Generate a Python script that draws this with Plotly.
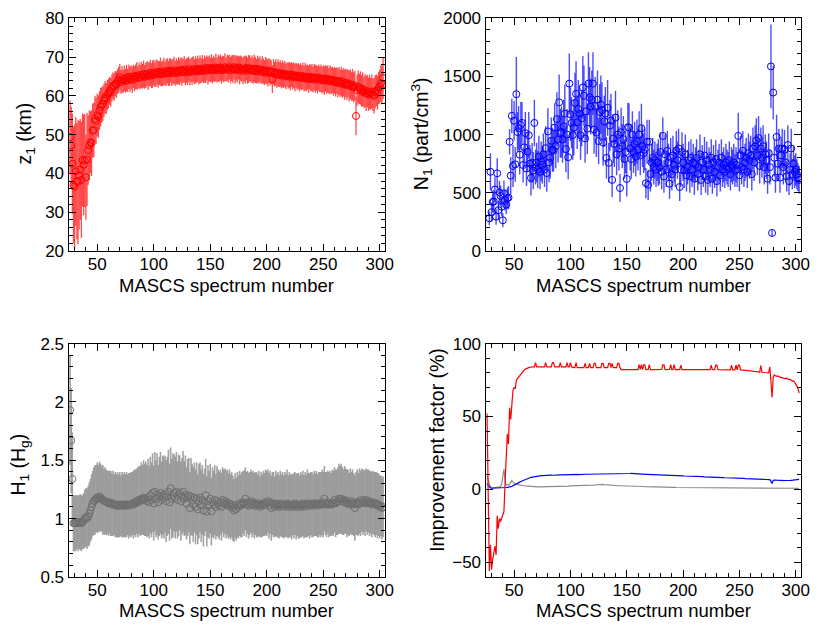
import plotly.graph_objects as go

spectrum = list(range(26, 304))

z1 = [49.3, 47.2, 42.5, 37.0,
      36.6, 40.5, 38.0, 37.8, 39.5, 41.0, 38.3, 43.4, 42.2, 43.3,
      39.0, 43.6, 46.0, 47.2, 48.0, 47.8, 51.0, 51.2, 54.0, 53.5,
      55.0, 54.6, 56.2, 57.1, 57.6, 58.0, 58.8, 59.6, 59.3, 60.2,
      60.6, 61.3, 60.9, 62.0, 62.6, 62.3, 63.1, 62.9, 63.7, 64.1,
      64.8, 63.6, 64.2, 63.8, 64.5, 63.9, 64.6, 64.0, 64.9, 64.3,
      64.7, 64.1, 65.0, 64.4, 64.9, 65.2, 64.6, 65.3, 64.8, 65.4,
      65.0, 65.6, 64.9, 65.3, 65.7, 65.1, 65.5, 65.9, 65.2, 65.6,
      66.0, 65.4, 65.8, 66.1, 65.5, 65.9, 66.2, 65.6, 65.8, 66.3,
      65.7, 66.0, 66.4, 65.8, 66.1, 66.5, 65.9, 66.2, 66.6, 65.8,
      66.3, 66.0, 66.5, 66.1, 66.7, 66.2, 66.4, 66.8, 66.0, 66.5,
      66.3, 66.9, 66.1, 66.6, 66.4, 66.9, 66.2, 66.7, 66.5, 67.0,
      66.3, 66.8, 66.5, 67.1, 66.4, 66.9, 66.6, 67.2, 66.5, 67.0,
      66.7, 67.2, 66.5, 67.0, 66.8, 67.3, 66.6, 67.1, 66.9, 67.3,
      66.6, 67.1, 66.8, 67.4, 66.7, 67.2, 66.9, 67.4, 66.6, 67.1,
      66.9, 67.4, 66.7, 67.2, 66.8, 67.3, 66.6, 67.1, 66.9, 66.4,
      67.0, 66.7, 67.2, 66.5, 66.9, 67.1, 66.6, 66.9, 66.4, 67.0,
      66.7, 66.3, 66.9, 66.5, 66.8, 66.2, 66.7, 66.4, 66.0, 66.6,
      66.3, 65.9, 66.5, 66.0, 66.1, 64.3, 66.2, 65.6, 66.0, 65.4,
      65.9, 65.5, 65.8, 65.2, 65.7, 65.3, 65.6, 65.0, 65.5, 65.2,
      65.4, 64.9, 65.5, 65.0, 65.3, 64.7, 65.2, 64.9, 65.1, 64.6,
      65.0, 64.7, 65.1, 64.5, 64.9, 64.6, 64.8, 64.3, 64.9, 64.5,
      64.7, 64.2, 64.8, 64.4, 64.6, 64.1, 64.7, 64.3, 64.5, 64.0,
      64.4, 63.9, 64.5, 64.1, 64.3, 63.8, 64.2, 63.9, 64.1, 63.6,
      64.0, 63.5, 63.9, 63.4, 63.8, 63.2, 63.7, 63.1, 63.5, 62.9,
      63.3, 62.8, 63.2, 62.6, 63.0, 62.4, 62.8, 62.2, 62.6, 54.8,
      61.5, 62.3, 61.8, 62.0, 61.2, 61.7, 60.9, 61.3, 60.6, 61.2,
      60.4, 61.0, 60.5, 61.1, 60.3, 60.0, 61.0, 61.4, 60.8, 62.0,
      62.4, 63.2, 62.8, 64.6]

z1_err = [9.5, 10, 13, 15,
          16, 14, 15, 16, 14, 13, 15, 12, 13, 12,
          11, 12, 9, 9, 8, 8.5, 7, 7, 6, 6,
          5.5, 5.5, 5, 5, 4.6, 4.5, 4.3, 4.2, 4.0, 3.9,
          3.8, 3.6, 3.7, 3.5, 3.4, 3.6, 3.3, 3.4, 3.2, 3.3,
          3.4, 3.1, 3.5, 3.0, 3.3, 3.1, 3.4, 3.0, 3.2, 3.3,
          3.1, 3.4, 3.0, 3.3, 3.2, 3.5, 3.0, 3.3, 3.1, 3.4,
          3.2, 3.5, 3.1, 3.3, 3.2, 3.6, 3.1, 3.4, 3.2, 3.5,
          3.3, 3.1, 3.5, 3.2, 3.4, 3.1, 3.6, 3.2, 3.3, 3.5,
          3.1, 3.4, 3.3, 3.2, 3.6, 3.1, 3.4, 3.3, 3.5, 3.2,
          3.4, 3.1, 3.5, 3.3, 3.2, 3.6, 3.1, 3.4, 3.3, 3.2,
          3.5, 3.2, 3.4, 3.1, 3.6, 3.3, 3.2, 3.5, 3.1, 3.4,
          3.3, 3.6, 3.2, 3.4, 3.1, 3.5, 3.3, 3.2, 3.6, 3.4,
          3.2, 3.5, 3.3, 3.4, 3.1, 3.6, 3.2, 3.5, 3.3, 3.4,
          3.5, 3.2, 3.4, 3.6, 3.1, 3.3, 3.5, 3.2, 3.4, 3.3,
          3.6, 3.2, 3.5, 3.3, 3.4, 3.1, 3.6, 3.3, 3.2, 3.4,
          3.3, 3.5, 3.2, 3.4, 3.6, 3.3, 3.2, 3.5, 3.3, 3.6,
          3.4, 3.2, 3.5, 3.3, 3.4, 3.1, 3.5, 3.3, 3.2, 3.4,
          3.3, 3.5, 3.2, 3.4, 3.1, 3.6, 3.3, 3.2, 3.4, 3.3,
          3.5, 3.2, 3.4, 3.3, 3.5, 3.2, 3.4, 3.3, 3.1, 3.4,
          3.3, 3.5, 3.2, 3.4, 3.3, 3.6, 3.2, 3.4, 3.3, 3.5,
          3.4, 3.2, 3.5, 3.3, 3.6, 3.4, 3.2, 3.5, 3.3, 3.4,
          3.5, 3.3, 3.4, 3.6, 3.3, 3.5, 3.4, 3.3, 3.6, 3.4,
          3.5, 3.7, 3.4, 3.6, 3.5, 3.3, 3.7, 3.5, 3.4, 3.6,
          3.5, 3.7, 3.4, 3.8, 3.6, 3.5, 3.8, 3.6, 3.7, 3.9,
          3.7, 3.9, 3.6, 4.0, 3.8, 3.7, 4.1, 3.9, 3.8, 5.0,
          4.0, 4.2, 3.9, 4.3, 4.1, 4.4, 4.0, 4.3, 4.5, 4.2,
          4.3, 4.5, 4.1, 4.4, 4.2, 4.6, 4.3, 4.1, 4.4, 4.2,
          4.4, 4.8, 5.0, 5.4]

n1 = [None, None, 280, 680,
      333, 420, 425, 527, 294, 667, 350, 502, 472, 380,
      263, 494, 438, 397, 452, 458, 938, 647, 1161, 730,
      1119, 744, 1347, 1022, 1055, 827, 1083, 1100, 738, 890,
      1013, 708, 852, 994, 750, 627, 758, 690, 1100, 720,
      760, 700, 810, 680, 770, 740, 830, 700, 883, 669,
      1027, 760, 800, 947, 870, 863, 1060, 900, 1133, 960,
      1277, 1010, 1022, 958, 1070, 1180, 875, 1000, 805, 1438,
      1175, 1100, 994, 1060, 1272, 1350, 1105, 1220, 1180, 994,
      1140, 1405, 1333, 967, 1200, 1050, 1438, 1320, 1240, 1300,
      1438, 1044, 1244, 1016, 1300, 944, 1194, 1258, 1210, 932,
      1113, 1180, 799, 1230, 757, 1077, 1120, 610, 966, 920,
      1146, 830, 1000, 880, 540, 1020, 900, 960, 790, 850,
      618, 1063, 1060, 880, 790, 1000, 850, 920, 810, 940,
      870, 1000, 820, 1055, 900, 840, 870, 582, 938, 568,
      938, 660, 760, 800, 720, 780, 700, 760, 760, 720,
      850, 680, 988, 640, 830, 700, 860, 760, 577, 800,
      660, 820, 740, 700, 860, 780, 880, 549, 700, 850,
      760, 690, 830, 650, 720, 780, 640, 800, 700, 760,
      620, 740, 800, 660, 720, 830, 610, 760, 700, 820,
      640, 780, 610, 740, 700, 800, 620, 760, 680, 790,
      600, 720, 760, 650, 800, 700, 740, 680, 760, 720,
      700, 780, 660, 740, 720, 760, 690, 740, 700, 988,
      650, 820, 720, 860, 700, 760, 800, 680, 840, 780,
      820, 660, 880, 760, 900, 950, 820, 970, 730, 880,
      800, 900, 720, 830, 780, 620, 840, 720, 1586, 154,
      1361, 800, 630, 980, 750, 880, 630, 820, 880, 720,
      870, 760, 640, 910, 600, 700, 880, 660, 750, 680,
      700, 660, 632, 610]

n1_err = [0, 0, 60, 160,
          80, 90, 100, 110, 70, 130, 80, 100, 90, 80,
          60, 110, 90, 80, 90, 100, 110, 160, 150, 180,
          170, 150, 320, 170, 190, 170, 200, 180, 150, 170,
          180, 150, 170, 200, 160, 150, 170, 160, 200, 150,
          170, 160, 180, 150, 170, 160, 180, 150, 190, 160,
          200, 170, 180, 200, 190, 180, 210, 190, 230, 200,
          240, 210, 220, 200, 230, 250, 200, 220, 190, 260,
          230, 220, 210, 240, 260, 280, 230, 250, 240, 210,
          240, 270, 260, 210, 250, 220, 270, 260, 240, 250,
          270, 210, 250, 210, 250, 200, 240, 250, 240, 200,
          220, 230, 180, 240, 170, 220, 230, 150, 210, 200,
          230, 180, 210, 190, 120, 210, 190, 200, 170, 180,
          150, 210, 210, 190, 170, 200, 180, 190, 170, 190,
          180, 200, 170, 210, 180, 170, 180, 130, 190, 130,
          190, 150, 160, 170, 150, 160, 150, 160, 200, 150,
          170, 150, 160, 140, 170, 150, 170, 160, 130, 170,
          140, 170, 150, 150, 170, 160, 170, 120, 150, 170,
          160, 150, 170, 140, 150, 160, 140, 160, 150, 160,
          140, 150, 160, 140, 150, 170, 130, 150, 150, 160,
          140, 160, 130, 150, 150, 160, 130, 150, 140, 160,
          130, 150, 160, 140, 160, 150, 150, 140, 160, 150,
          150, 160, 140, 150, 150, 160, 140, 150, 150, 200,
          140, 170, 150, 170, 150, 160, 170, 140, 170, 160,
          170, 140, 180, 160, 180, 190, 170, 190, 150, 180,
          170, 180, 150, 170, 160, 130, 170, 150, 360, 30,
          230, 160, 130, 190, 150, 170, 130, 160, 170, 150,
          170, 150, 130, 170, 120, 140, 170, 130, 150, 140,
          140, 130, 120, 120]

h1 = [1.93, 1.67, 1.34, 0.96,
      0.96, 0.96, 0.97, 0.96, 0.97, 0.97, 0.96, 0.97, 0.98, 1.00,
      1.01, 1.00, 1.02, 1.04, 1.07, 1.10, 1.13, 1.15, 1.16, 1.17,
      1.18, 1.17, 1.19, 1.18, 1.17, 1.16, 1.15, 1.15, 1.14, 1.14,
      1.13, 1.14, 1.13, 1.12, 1.13, 1.12, 1.12, 1.11, 1.12, 1.11,
      1.12, 1.11, 1.12, 1.11, 1.12, 1.11, 1.12, 1.12, 1.11, 1.12,
      1.12, 1.13, 1.12, 1.14, 1.13, 1.15, 1.14, 1.16, 1.15, 1.17,
      1.16, 1.18, 1.16, 1.17, 1.15, 1.18, 1.14, 1.20, 1.16, 1.22,
      1.13, 1.23, 1.17, 1.21, 1.14, 1.19, 1.22, 1.16, 1.20, 1.18,
      1.21, 1.15, 1.19, 1.23, 1.14, 1.26, 1.17, 1.20, 1.22, 1.18,
      1.23, 1.16, 1.20, 1.22, 1.15, 1.19, 1.23, 1.17, 1.20, 1.13,
      1.18, 1.20, 1.09, 1.19, 1.16, 1.12, 1.18, 1.10, 1.17, 1.08,
      1.15, 1.18, 1.11, 1.16, 1.07, 1.14, 1.20, 1.06, 1.15, 1.12,
      1.17, 1.06, 1.14, 1.12, 1.16, 1.10, 1.15, 1.13, 1.11, 1.14,
      1.10, 1.16, 1.13, 1.15, 1.12, 1.14, 1.11, 1.13, 1.10, 1.12,
      1.09, 1.07, 1.11, 1.08, 1.12, 1.10, 1.13, 1.11, 1.12, 1.14,
      1.13, 1.17, 1.12, 1.14, 1.11, 1.13, 1.15, 1.12, 1.14, 1.11,
      1.13, 1.12, 1.11, 1.13, 1.10, 1.12, 1.11, 1.13, 1.12, 1.14,
      1.13, 1.15, 1.11, 1.14, 1.09, 1.13, 1.12, 1.10, 1.13, 1.11,
      1.12, 1.10, 1.13, 1.11, 1.12, 1.10, 1.12, 1.11, 1.13, 1.10,
      1.12, 1.11, 1.10, 1.12, 1.11, 1.13, 1.10, 1.12, 1.11, 1.10,
      1.12, 1.11, 1.13, 1.10, 1.12, 1.11, 1.13, 1.12, 1.11, 1.13,
      1.12, 1.11, 1.13, 1.12, 1.13, 1.11, 1.12, 1.13, 1.12, 1.14,
      1.12, 1.17, 1.13, 1.12, 1.14, 1.12, 1.13, 1.12, 1.14, 1.13,
      1.16, 1.13, 1.14, 1.15, 1.17, 1.16, 1.17, 1.15, 1.14, 1.16,
      1.15, 1.13, 1.14, 1.12, 1.15, 1.13, 1.14, 1.12, 1.09, 1.13,
      1.14, 1.12, 1.15, 1.13, 1.16, 1.14, 1.15, 1.13, 1.16, 1.14,
      1.15, 1.13, 1.14, 1.12, 1.14, 1.13, 1.12, 1.13, 1.11, 1.12,
      1.10, 1.11, 1.09, 1.10]

h1_err = [0.47, 0.45, 0.40, 0.24,
          0.24, 0.24, 0.23, 0.24, 0.23, 0.24, 0.24, 0.23, 0.24, 0.25,
          0.25, 0.26, 0.26, 0.27, 0.27, 0.28, 0.28, 0.29, 0.30, 0.29,
          0.30, 0.29, 0.30, 0.29, 0.28, 0.30, 0.28, 0.29, 0.28, 0.27,
          0.28, 0.27, 0.28, 0.27, 0.28, 0.26, 0.28, 0.27, 0.28, 0.27,
          0.28, 0.26, 0.28, 0.27, 0.28, 0.27, 0.28, 0.26, 0.28, 0.27,
          0.28, 0.27, 0.29, 0.28, 0.29, 0.28, 0.30, 0.29, 0.30, 0.31,
          0.30, 0.32, 0.31, 0.32, 0.31, 0.33, 0.31, 0.33, 0.32, 0.34,
          0.32, 0.34, 0.33, 0.35, 0.32, 0.34, 0.35, 0.33, 0.34, 0.35,
          0.33, 0.35, 0.34, 0.36, 0.33, 0.35, 0.34, 0.36, 0.33, 0.35,
          0.34, 0.33, 0.35, 0.32, 0.34, 0.33, 0.35, 0.32, 0.34, 0.31,
          0.33, 0.32, 0.31, 0.33, 0.31, 0.32, 0.30, 0.32, 0.31, 0.30,
          0.32, 0.30, 0.31, 0.30, 0.31, 0.29, 0.31, 0.30, 0.31, 0.29,
          0.30, 0.29, 0.30, 0.29, 0.30, 0.28, 0.30, 0.29, 0.29, 0.28,
          0.29, 0.28, 0.29, 0.28, 0.29, 0.28, 0.28, 0.29, 0.28, 0.28,
          0.28, 0.27, 0.28, 0.27, 0.28, 0.27, 0.28, 0.27, 0.28, 0.27,
          0.28, 0.27, 0.28, 0.27, 0.28, 0.27, 0.27, 0.28, 0.27, 0.28,
          0.27, 0.28, 0.27, 0.28, 0.26, 0.28, 0.27, 0.28, 0.27, 0.28,
          0.28, 0.27, 0.28, 0.27, 0.28, 0.27, 0.28, 0.26, 0.28, 0.27,
          0.28, 0.27, 0.28, 0.27, 0.28, 0.27, 0.28, 0.27, 0.29, 0.27,
          0.28, 0.27, 0.28, 0.26, 0.28, 0.27, 0.28, 0.27, 0.28, 0.27,
          0.28, 0.27, 0.28, 0.27, 0.28, 0.27, 0.29, 0.27, 0.28, 0.27,
          0.28, 0.27, 0.28, 0.27, 0.28, 0.27, 0.28, 0.27, 0.28, 0.28,
          0.28, 0.28, 0.27, 0.28, 0.27, 0.28, 0.28, 0.27, 0.28, 0.28,
          0.28, 0.29, 0.28, 0.29, 0.30, 0.29, 0.30, 0.29, 0.28, 0.29,
          0.28, 0.29, 0.28, 0.27, 0.28, 0.27, 0.28, 0.27, 0.28, 0.27,
          0.28, 0.27, 0.28, 0.28, 0.27, 0.28, 0.27, 0.28, 0.27, 0.28,
          0.27, 0.28, 0.27, 0.28, 0.27, 0.27, 0.28, 0.27, 0.28, 0.27,
          0.27, 0.26, 0.27, 0.26]

improve_z = [52, 2, -56, -38,
             -55, -48, -42, -39, -45, -18, -27, -20, -22, -19,
             -17, -15, 5, 22, 38, 31, 56, 48, 62, 68,
             70, 69, 75, 76, 77, 78, 79.5, 80.5, 81.5, 82,
             82.5, 83, 83.3, 83.5, 83.8, 84, 84, 84, 84, 87,
             84, 84, 84, 84, 84, 84, 84, 84, 87, 84,
             84, 84, 84, 84, 87, 87, 84, 84, 84, 84,
             84, 87, 84, 84, 84, 84, 84, 87, 84, 84,
             87, 84, 83.5, 83.5, 83.5, 87, 83.5, 83.5, 83.5, 83.5,
             83.5, 83.5, 83.5, 86.5, 83.5, 83.5, 83.5, 86.5, 83.5, 83.5,
             83.5, 86.5, 86.5, 83.5, 83.5, 83.5, 83.5, 83.5, 86.5, 86.5,
             83.5, 83.5, 83.5, 83.5, 86.5, 86.5, 83.5, 86.5, 83.5, 83.5,
             83.5, 83.5, 86.5, 86.5, 83.5, 82.2, 82.2, 82.2, 82.3, 82.1,
             82.2, 82.2, 82.3, 82.2, 82.1, 82.2, 82.2, 82.3, 82.2, 82.2,
             82.2, 85.5, 82.3, 85.5, 82.2, 85.5, 85.5, 82.2, 82.2, 82.3,
             85.5, 82.2, 82.2, 82.2, 82.3, 82.2, 82.2, 82.2, 82.1, 82.2,
             82.2, 82.3, 85.5, 85.5, 82.2, 82.2, 82.2, 82.2, 82.3, 85.5,
             82.2, 82.2, 85.5, 82.2, 82.2, 82.2, 82.2, 82.2, 85.3, 82.2,
             82.2, 82.2, 82.1, 82.2, 82.2, 82.2, 82.1, 82.2, 82.2, 82.2,
             82.1, 82.2, 82.2, 82.2, 82.1, 82.2, 82.2, 82.2, 82.1, 82.2,
             82.2, 82.2, 82.1, 82.2, 82.2, 85.3, 82.2, 82.2, 82.1, 85.3,
             85.3, 82.2, 82.2, 82.1, 82.2, 82.2, 82.1, 82.2, 82.1, 82.1,
             82.1, 82.1, 82.0, 85.2, 82.0, 82.0, 82.0, 85.2, 82.0, 85.2,
             85.2, 82.0, 81.8, 81.8, 81.7, 81.6, 81.6, 81.5, 81.4, 81.4,
             81.3, 81.2, 81.1, 81.0, 81.0, 80.8, 80.7, 80.6, 80.5, 85.0,
             80.4, 80.2, 80.1, 80.0, 79.8, 79.6, 80.0, 84.0, 72.0, 63.0,
             77.0, 78.5, 78.0, 77.5, 77.8, 77.2, 77.0, 76.8, 76.5, 76.6,
             76.0, 75.8, 76.2, 75.5, 75.3, 75.6, 74.8, 74.2, 74.5, 73.5,
             72.5, 71.0, 69.0, 66.0]

improve_n = [4.0, 3.0, 1.5, 1.0,
             0.8, 0.8, 0.9, 0.8, 0.9, 0.9, 1.0, 1.0, 1.0, 1.1,
             1.1, 1.2, 1.2, 1.3, 1.4, 1.5, 1.6, 1.8, 2.1, 2.5,
             3.0, 3.3, 3.8, 4.2, 4.6, 5.0, 5.4, 5.8, 6.2, 6.5,
             6.8, 7.1, 7.5, 7.8, 8.0, 8.2, 8.4, 8.6, 8.8, 8.9,
             9.2, 9.4, 9.3, 9.4, 9.5, 9.4, 9.5, 9.6, 9.5, 9.6,
             9.6, 9.7, 9.7, 9.8, 9.7, 9.8, 9.8, 9.9, 9.8, 9.9,
             9.9, 10.0, 9.9, 10.0, 10.0, 10.0, 10.1, 10.0, 10.1, 10.1,
             10.1, 10.2, 10.1, 10.2, 10.2, 10.2, 10.3, 10.2, 10.3, 10.3,
             10.3, 10.3, 10.4, 10.3, 10.4, 10.4, 10.4, 10.4, 10.5, 10.4,
             10.5, 10.5, 10.5, 10.6, 10.5, 10.6, 10.6, 10.7, 10.6, 10.7,
             10.6, 10.6, 10.7, 10.6, 10.6, 10.5, 10.6, 10.5, 10.6, 10.5,
             10.6, 10.6, 10.7, 10.6, 10.7, 10.7, 10.8, 10.7, 10.8, 10.8,
             10.8, 10.9, 10.8, 10.9, 11.0, 10.9, 10.8, 10.8, 10.7, 10.7,
             10.7, 10.6, 10.6, 10.5, 10.5, 10.4, 10.4, 10.3, 10.4, 10.3,
             10.3, 10.2, 10.2, 10.1, 10.2, 10.1, 10.1, 10.0, 10.0, 10.0,
             9.9, 9.9, 9.9, 9.8, 9.8, 9.8, 9.7, 9.7, 9.7, 9.6,
             9.6, 9.6, 9.5, 9.5, 9.5, 9.4, 9.4, 9.4, 9.3, 9.3,
             9.3, 9.2, 9.2, 9.2, 9.1, 9.1, 9.1, 9.0, 9.0, 9.0,
             8.9, 8.9, 8.9, 8.8, 8.8, 8.8, 8.7, 8.7, 8.7, 8.6,
             8.6, 8.6, 8.5, 8.5, 8.5, 8.4, 8.4, 8.4, 8.3, 8.3,
             8.3, 8.2, 8.2, 8.2, 8.1, 8.1, 8.1, 8.0, 8.0, 8.0,
             7.9, 7.9, 7.9, 7.8, 7.8, 7.8, 7.7, 7.7, 7.7, 7.6,
             7.6, 7.6, 7.5, 7.5, 7.5, 7.4, 7.4, 7.4, 7.3, 7.3,
             7.3, 7.2, 7.2, 7.2, 7.1, 7.1, 7.1, 7.0, 7.0, 7.0,
             6.9, 6.9, 6.9, 6.8, 6.8, 6.8, 6.7, 6.7, 5.5, 4.0,
             6.2, 6.5, 6.4, 6.3, 6.2, 6.3, 6.1, 6.2, 6.0, 6.1,
             6.0, 6.1, 6.0, 6.1, 6.2, 6.1, 6.2, 6.3, 6.4, 6.5,
             6.6, 6.7, 6.8, 6.9]

improve_h = [9.0, 6.0, 3.0, 1.5,
             1.0, 1.0, 1.2, 1.0, 1.2, 1.3, 1.2, 1.5, 2.0, 4.0,
             9.0, 14.0, 6.0, 3.0, 3.2, 3.0, 3.5, 4.5, 6.0, 5.0,
             4.2, 3.8, 3.5, 3.3, 3.1, 3.0, 2.8, 2.7, 2.6, 2.5,
             2.4, 2.3, 2.2, 2.2, 2.1, 2.0, 2.0, 2.0, 1.9, 1.9,
             1.9, 1.8, 1.8, 1.8, 1.8, 1.8, 1.9, 1.8, 1.8, 1.9,
             1.9, 1.9, 2.0, 1.9, 2.0, 2.0, 2.0, 2.1, 2.0, 2.1,
             2.1, 2.1, 2.2, 2.1, 2.2, 2.2, 2.3, 2.2, 2.3, 2.4,
             2.4, 2.5, 2.4, 2.6, 2.7, 2.6, 2.7, 2.8, 2.7, 2.8,
             2.7, 2.6, 2.7, 2.6, 2.5, 2.6, 2.5, 2.6, 2.7, 2.8,
             2.9, 3.0, 3.1, 3.2, 3.3, 3.4, 3.5, 3.6, 3.5, 3.4,
             3.3, 3.2, 3.1, 3.0, 2.9, 2.9, 2.8, 2.8, 2.7, 2.7,
             2.6, 2.6, 2.6, 2.5, 2.5, 2.5, 2.4, 2.4, 2.4, 2.3,
             2.3, 2.4, 2.5, 2.4, 2.3, 2.3, 2.2, 2.2, 2.2, 2.1,
             2.1, 2.1, 2.0, 2.0, 2.0, 2.0, 1.9, 1.9, 1.9, 1.9,
             1.8, 1.8, 1.8, 1.8, 1.7, 1.7, 1.7, 1.7, 1.6, 1.6,
             1.6, 1.6, 1.6, 1.5, 1.5, 1.5, 1.5, 1.5, 1.4, 1.4,
             1.4, 1.4, 1.4, 1.4, 1.3, 1.3, 1.3, 1.3, 1.3, 1.3,
             1.2, 1.2, 1.2, 1.2, 1.2, 1.2, 1.2, 1.1, 1.1, 1.1,
             1.1, 1.1, 1.1, 1.1, 1.1, 1.1, 1.0, 1.0, 1.0, 1.0,
             1.0, 1.0, 1.0, 1.0, 1.0, 1.0, 1.0, 1.0, 1.0, 1.0,
             1.0, 1.0, 1.0, 1.0, 1.0, 1.0, 1.0, 1.0, 1.1, 1.1,
             1.1, 1.1, 1.1, 1.1, 1.1, 1.1, 1.1, 1.1, 1.1, 1.1,
             1.1, 1.1, 1.1, 1.2, 1.2, 1.2, 1.2, 1.2, 1.2, 1.2,
             1.2, 1.2, 1.2, 1.2, 1.2, 1.2, 1.2, 1.2, 1.2, 1.1,
             1.1, 1.1, 1.1, 1.1, 1.1, 1.1, 1.0, 1.0, 0.9, 1.0,
             1.0, 1.0, 1.0, 1.0, 0.9, 0.9, 0.9, 0.9, 0.9, 0.9,
             0.9, 0.8, 0.8, 0.8, 0.8, 0.8, 0.8, 0.8, 0.8, 0.8,
             0.7, 0.7, 0.7, 0.7]

x_title = "MASCS spectrum number"
y_titles = ["z<sub>1</sub> (km)", "N<sub>1</sub> (part/cm<sup>3</sup>)",
            "H<sub>1</sub> (H<sub>g</sub>)", "Improvement factor (%)"]

for name, arr in [("z1", z1), ("z1_err", z1_err), ("n1", n1), ("n1_err", n1_err),
                  ("h1", h1), ("h1_err", h1_err), ("improve_z", improve_z),
                  ("improve_n", improve_n), ("improve_h", improve_h)]:
    assert len(arr) == len(spectrum), (name, len(arr))

# The page body has an 8px margin: the figure is drawn in page pixels 8..813 x 8..624
OFF = 8
W, H = 805, 616
FONT = "Liberation Sans, Arial, Helvetica, sans-serif"


def px(x):
    return (x - OFF) / W


def py(y):
    return 1 - (y - OFF) / H


fig = go.Figure()


def err_trace(y, err, color, bar_color, xa, ya, thick):
    return go.Scatter(
        x=spectrum, y=y, mode="markers", showlegend=False,
        marker=dict(symbol="circle-open", size=7, color=color, line=dict(width=1, color=color)),
        error_y=dict(type="data", array=err, visible=True, color=bar_color, thickness=thick, width=0),
        xaxis=xa, yaxis=ya)


fig.add_trace(err_trace(z1, z1_err, "red", "rgba(255,0,0,0.7)", "x", "y", 1.3))
fig.add_trace(err_trace(n1, n1_err, "blue", "rgba(0,0,255,0.7)", "x2", "y2", 1.4))
fig.add_trace(err_trace(h1, h1_err, "rgb(110,110,110)", "rgba(140,140,140,0.8)", "x3", "y3", 1.6))

for vals, col in [(improve_h, "rgb(140,140,140)"), (improve_n, "blue"), (improve_z, "red")]:
    fig.add_trace(go.Scatter(x=spectrum, y=vals, mode="lines", showlegend=False,
                             line=dict(color=col, width=1.2), xaxis="x4", yaxis="y4"))

xl = [px(69.3), px(389.3)]
xr = [px(491), px(810)]
yt = [py(249.3), py(9.3)]
yb = [py(585.7), py(345)]


def axis(domain, rng, dtick, mdtick, anchor, tickformat=None, standoff=None):
    d = dict(domain=domain, range=rng, dtick=dtick, tick0=0, ticks="inside", ticklen=7,
             tickwidth=1, tickcolor="black", showline=True, linecolor="black", linewidth=1.3,
             mirror="allticks", showgrid=False, zeroline=False, anchor=anchor,
             minor=dict(ticks="inside", ticklen=4, dtick=mdtick, tickcolor="black",
                        tickwidth=1, showgrid=False),
             tickfont=dict(family=FONT, size=17, color="black"))
    if tickformat:
        d["tickformat"] = tickformat
    if standoff is not None:
        d["ticklabelstandoff"] = standoff
    return d


xr_rng = [24.7, 304.7]
fig.update_layout(
    width=W, height=H, autosize=False,
    margin=dict(l=0, r=0, t=0, b=0),
    paper_bgcolor="white", plot_bgcolor="white",
    font=dict(family=FONT, size=17, color="black"),
    xaxis=axis(xl, xr_rng, 50, 10, "y", standoff=-2),
    yaxis=axis(yt, [20, 80], 10, 2, "x"),
    xaxis2=axis(xr, xr_rng, 50, 10, "y2", standoff=-2),
    yaxis2=axis(yt, [0, 2000], 500, 100, "x2", tickformat="d"),
    xaxis3=axis(xl, xr_rng, 50, 10, "y3", standoff=-2),
    yaxis3=axis(yb, [0.5, 2.5], 0.5, 0.1, "x3"),
    xaxis4=axis(xr, xr_rng, 50, 10, "y4", standoff=-2),
    yaxis4=axis(yb, [-60, 100], 50, 10, "x4"),
)

ann = []
for xc, yc in [((69.3 + 389.3) / 2, 285), ((491 + 810) / 2, 285),
               ((69.3 + 389.3) / 2, 620), ((491 + 810) / 2, 620)]:
    ann.append(dict(text=x_title, x=px(xc), y=py(yc), xref="paper", yref="paper",
                    showarrow=False, xanchor="center", yanchor="middle",
                    font=dict(family=FONT, size=18.5, color="black")))
for t, (xc, yc) in zip(y_titles, [(25.5, 128), (425.5, 128), (20, 470), (442.5, 455)]):
    ann.append(dict(text=t, x=px(xc), y=py(yc), xref="paper", yref="paper",
                    showarrow=False, xanchor="center", yanchor="middle", textangle=-90,
                    font=dict(family=FONT, size=19.5, color="black")))
fig.update_layout(annotations=ann)

fig.write_html("out.html")
